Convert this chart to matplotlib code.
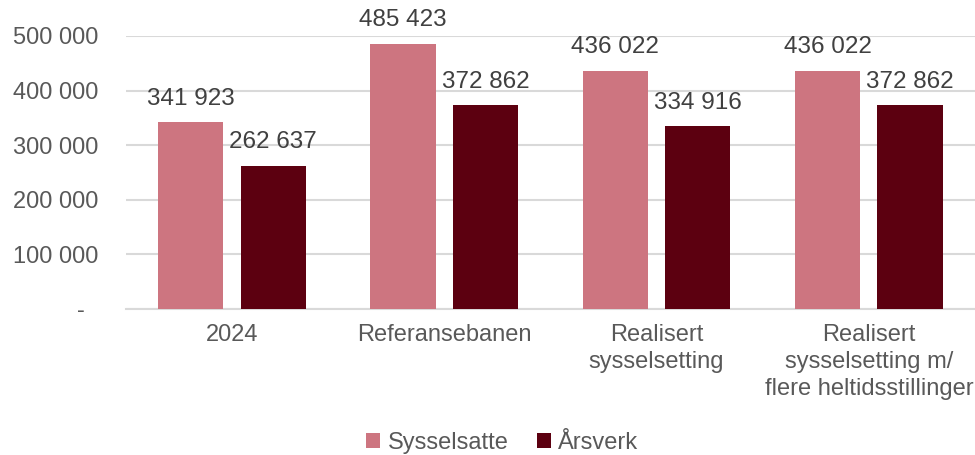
import numpy as np
import matplotlib.pyplot as plt

# Data
categories = ["2024", "Referansebanen", "Realisert\nsysselsetting",
              "Realisert\nsysselsetting m/\nflere heltidsstillinger"]
sysselsatte = [341923, 485423, 436022, 436022]
arsverk = [262637, 372862, 334916, 372862]
yticks = [0, 100000, 200000, 300000, 400000, 500000]

pink = "#CD7580"
dark = "#5C0010"
grey = "#595959"

plt.rcParams["font.family"] = ["Liberation Sans", "DejaVu Sans"]


def fmt(v):
    return "-  " if v == 0 else f"{v:,}".replace(",", " ")


fig = plt.figure(figsize=(9.75, 4.55), dpi=100)
ax = fig.add_axes([0.129, 0.321, 0.871, 0.600])

x = np.arange(len(categories))
w = 0.307
off = 0.194
b1 = ax.bar(x - off, sysselsatte, w, color=pink, label="Sysselsatte", zorder=3)
b2 = ax.bar(x + off, arsverk, w, color=dark, label="Årsverk", zorder=3)

for bars in (b1, b2):
    for b in bars:
        ax.annotate(fmt(int(b.get_height())),
                    (b.get_x() + b.get_width() / 2, b.get_height()),
                    xytext=(0, 9), textcoords="offset points",
                    ha="center", va="bottom", fontsize=17.5, color="#404040")

ax.set_xlim(-0.5, 3.5)
ax.set_ylim(0, 500000)
ax.set_yticks(yticks)
ax.set_yticklabels([fmt(v) for v in yticks])
ax.set_xticks(x)
ax.set_xticklabels(categories, linespacing=1.3)
ax.tick_params(axis="both", length=0, labelsize=17, labelcolor=grey)
ax.tick_params(axis="y", pad=20)
ax.tick_params(axis="x", pad=11)

ax.grid(axis="y", color="#D9D9D9", linewidth=1.5, zorder=0)
for s in ["top", "right", "left"]:
    ax.spines[s].set_visible(False)
ax.spines["bottom"].set_color("#D9D9D9")
ax.spines["bottom"].set_linewidth(1.5)

fig.legend(loc="lower center", bbox_to_anchor=(0.515, -0.045), ncol=2,
           frameon=False, fontsize=17, labelcolor=grey,
           handlelength=0.6, handleheight=0.6, handletextpad=0.3,
           columnspacing=1.2)

fig.savefig("out.png", dpi=100)
